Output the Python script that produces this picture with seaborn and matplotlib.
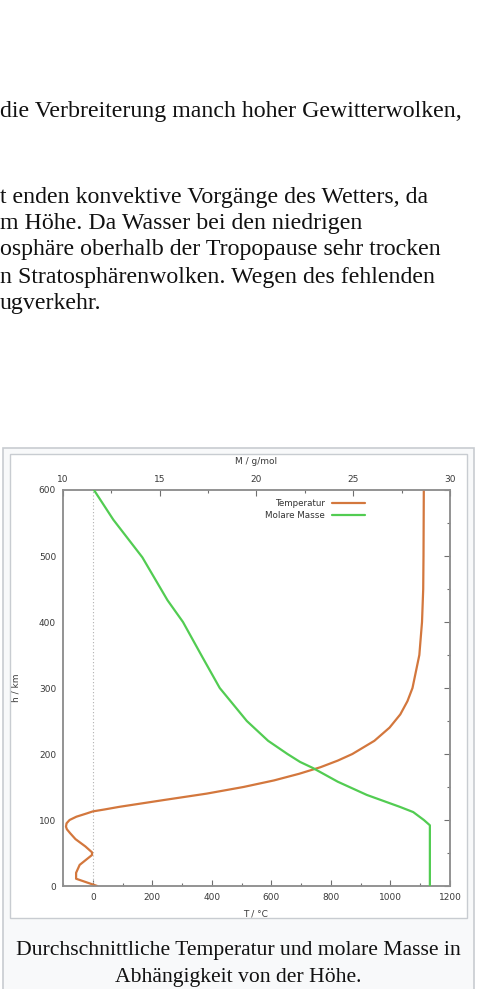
import matplotlib
matplotlib.use("Agg")
import matplotlib.pyplot as plt
from matplotlib.patches import Rectangle
from matplotlib.lines import Line2D
from matplotlib.ticker import MultipleLocator
import pandas as pd
import seaborn as sns

# Mean temperature profile of the atmosphere
temp_height_km = [0, 11, 20, 32, 47, 51, 60, 71, 80, 86, 90, 95, 100, 105, 110, 113,
                  116, 120, 130, 140, 150, 160, 170, 180, 190, 200, 220, 240, 260,
                  280, 300, 350, 400, 450, 500, 600]
temp_celsius = [15, -56, -56, -44, -2.5, -2.5, -25, -58, -76, -87, -90, -88, -78, -55,
                -20, 0, 40, 90, 235, 383, 506, 609, 693, 765, 823, 872, 946, 997,
                1033, 1057, 1074, 1097, 1106, 1110, 1111, 1112]

# Mean molar mass of the air
mass_height_km = [0, 92, 100, 112, 120, 138, 158, 179, 188, 200, 220, 250, 300, 347,
                  400, 433, 498, 555, 600]
molar_mass = [28.96, 28.96, 28.65, 28.1, 27.4, 25.7, 24.2, 22.9, 22.25, 21.6, 20.6,
              19.5, 18.1, 17.2, 16.2, 15.4, 14.1, 12.6, 11.6]

series_labels = ["Temperatur", "Molare Masse"]
axis_labels = {"T": "T / °C", "M": "M / g/mol", "h": "h / km"}

body_lines = [
    "die Verbreiterung manch hoher Gewitterwolken,",
    "t enden konvektive Vorgänge des Wetters, da",
    "m Höhe. Da Wasser bei den niedrigen",
    "osphäre oberhalb der Tropopause sehr trocken",
    "n Stratosphärenwolken. Wegen des fehlenden",
    "ugverkehr.",
]
caption_lines = ["Durchschnittliche Temperatur und molare Masse in",
                 "Abhängigkeit von der Höhe."]

W, H = 479, 989
sns.set_theme(style="white")
plt.rcParams["font.family"] = ["DejaVu Sans"]

fig = plt.figure(figsize=(W / 100, H / 100), dpi=100, facecolor="white")


def fx(x):
    return x / W


def fy(y):
    return 1 - y / H


# page text
serif = ["Liberation Serif", "DejaVu Serif"]
body_pos = [(0, 112), (0, 197), (0, 223.5), (0, 250), (0, 277), (0, 303.5)]
for (x, y), line in zip(body_pos, body_lines):
    fig.text(fx(x), fy(y), line, family=serif, fontsize=17.2, color="#111111",
             ha="left", va="center")

# thumbnail frame
fig.patches.append(Rectangle((fx(3), fy(995)), fx(474) - fx(3), fy(448) - fy(995),
                             transform=fig.transFigure, facecolor="#f8f9fa",
                             edgecolor="#c8ccd1", lw=1.2, zorder=-2))
fig.patches.append(Rectangle((fx(10), fy(918)), fx(467) - fx(10), fy(454) - fy(918),
                             transform=fig.transFigure, facecolor="white",
                             edgecolor="#c8ccd1", lw=1.0, zorder=-1))

for i, line in enumerate(caption_lines):
    fig.text(fx(238), fy(950 + 27.5 * i), line, family=serif, fontsize=15.6,
             color="#111111", ha="center", va="center")

# chart
ax = fig.add_axes([fx(63), fy(886), fx(450) - fx(63), fy(490) - fy(886)])
ax.set_facecolor("white")
temp_df = pd.DataFrame({"T": temp_celsius, "h": temp_height_km})
mass_df = pd.DataFrame({"M": molar_mass, "h": mass_height_km})

orange, green = "#d3773d", "#52cc52"
ax.axvline(0, color="#b0b0b0", ls=(0, (1, 2)), lw=0.8, zorder=1)
sns.lineplot(data=temp_df, x="T", y="h", sort=False, estimator=None, ax=ax,
             color=orange, lw=1.6, zorder=3)
ax.set_xlim(-100, 1200)
ax.set_ylim(0, 600)

ax2 = ax.twiny()
sns.lineplot(data=mass_df, x="M", y="h", sort=False, estimator=None, ax=ax2,
             color=green, lw=1.6, zorder=3)
ax2.set_xlim(10, 30)
ax2.set_ylim(0, 600)

label_color = "#3a3a3a"
tick_font = dict(fontsize=6.5, color=label_color)
for a in (ax, ax2):
    for s in a.spines.values():
        s.set_color("#8f8f8f")
        s.set_linewidth(1.1)
    a.set_xlabel("")
    a.set_ylabel("")

ax.xaxis.set_major_locator(MultipleLocator(200))
ax.xaxis.set_minor_locator(MultipleLocator(100))
ax.yaxis.set_major_locator(MultipleLocator(100))
ax.yaxis.set_minor_locator(MultipleLocator(50))
ax.tick_params(axis="both", which="both", direction="in", color="#6f6f6f",
               labelsize=6.5, labelcolor=label_color, pad=5)
ax.tick_params(axis="y", which="both", right=True)
ax.tick_params(axis="x", which="both", top=False)
ax.tick_params(which="major", length=4, width=0.8)
ax.tick_params(which="minor", length=2.5, width=0.8)
ax.set_xticks([0, 200, 400, 600, 800, 1000, 1200])

ax2.xaxis.set_major_locator(MultipleLocator(5))
ax2.xaxis.set_minor_locator(MultipleLocator(2.5))
ax2.tick_params(axis="x", which="both", direction="in", color="#6f6f6f",
                labelsize=6.5, labelcolor=label_color, pad=4)
ax2.tick_params(which="major", length=4, width=0.8)
ax2.tick_params(which="minor", length=2.5, width=0.8)

fig.text(fx(256), fy(914), axis_labels["T"], ha="center", va="center", **tick_font)
fig.text(fx(256), fy(462), axis_labels["M"], ha="center", va="center", **tick_font)
fig.text(fx(16), fy(688), axis_labels["h"], ha="center", va="center", rotation=90,
         **tick_font)

# key
for i, (lab, col) in enumerate(zip(series_labels, [orange, green])):
    y = 503 + 12 * i
    fig.text(fx(325), fy(y), lab, ha="right", va="center", fontsize=6.3,
             color="#333333")
    fig.add_artist(Line2D([fx(332), fx(365)], [fy(y), fy(y)], color=col, lw=1.6,
                          transform=fig.transFigure))

fig.savefig("out.png", dpi=100, facecolor="white")
